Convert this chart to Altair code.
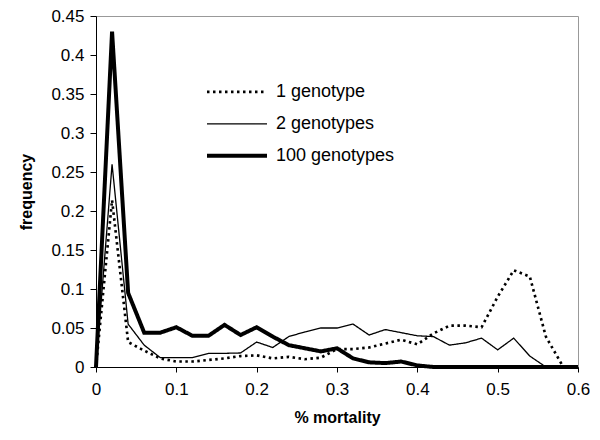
import altair as alt
import pandas as pd

mortality = [0.00, 0.02, 0.04, 0.06, 0.08, 0.10, 0.12, 0.14, 0.16, 0.18,
             0.20, 0.22, 0.24, 0.26, 0.28, 0.30, 0.32, 0.34, 0.36, 0.38,
             0.40, 0.42, 0.44, 0.46, 0.48, 0.50, 0.52, 0.54, 0.56, 0.58, 0.60]

one_genotype = [0, 0.214, 0.032, 0.021, 0.011, 0.007, 0.007, 0.009, 0.011, 0.014,
                0.015, 0.011, 0.013, 0.010, 0.012, 0.023, 0.023, 0.025, 0.030, 0.035,
                0.029, 0.043, 0.053, 0.053, 0.051, 0.090, 0.124, 0.116, 0.039, 0.003]

two_genotypes = [0, 0.260, 0.055, 0.028, 0.012, 0.012, 0.012, 0.0175, 0.0175, 0.018,
                 0.032, 0.025, 0.039, 0.045, 0.050, 0.050, 0.055, 0.041, 0.048, 0.044,
                 0.040, 0.039, 0.028, 0.031, 0.037, 0.022, 0.037, 0.014, 0, 0, 0]

hundred_genotypes = [0, 0.430, 0.095, 0.044, 0.044, 0.051, 0.040, 0.040, 0.054, 0.041,
                     0.051, 0.039, 0.028, 0.024, 0.020, 0.024, 0.011, 0.006, 0.005, 0.007,
                     0.002, 0, 0, 0, 0, 0, 0, 0, 0, 0, 0]

series_names = ["1 genotype", "2 genotypes", "100 genotypes"]
series_values = [one_genotype, two_genotypes, hundred_genotypes]

rows = []
for name, vals in zip(series_names, series_values):
    for x, y in zip(mortality, vals):
        rows.append({"mortality": x, "frequency": y, "series": name})
df = pd.DataFrame(rows)

x_ticks = [0, 0.1, 0.2, 0.3, 0.4, 0.5, 0.6]
y_ticks = [0, 0.05, 0.1, 0.15, 0.2, 0.25, 0.3, 0.35, 0.4, 0.45]

font = "Liberation Sans"

# scale order from thinnest to thickest line (legend shows series_names order)
width_order = ["2 genotypes", "1 genotype", "100 genotypes"]

chart = alt.Chart(df).mark_line(color="black", strokeCap="butt", strokeJoin="miter").encode(
    x=alt.X("mortality:Q", title="% mortality",
            scale=alt.Scale(domain=[0, 0.6], nice=False),
            axis=alt.Axis(values=x_ticks, format="~f", grid=False, tickSize=5,
                          labelPadding=9, titlePadding=12, labelFlush=False)),
    y=alt.Y("frequency:Q", title="frequency",
            scale=alt.Scale(domain=[0, 0.45], nice=False),
            axis=alt.Axis(values=y_ticks, format="~f", grid=False, tickSize=6,
                          labelPadding=6, titlePadding=16)),
    strokeDash=alt.StrokeDash(
        "series:N", title=None,
        scale=alt.Scale(domain=width_order, range=[[1, 0], [2.5, 3.5], [1, 0]]),
        legend=alt.Legend(values=series_names),
    ),
    strokeWidth=alt.StrokeWidth(
        "series:N", title=None,
        scale=alt.Scale(domain=width_order, range=[1.3, 4]),
        legend=alt.Legend(values=series_names),
    ),
    detail="series:N",
).properties(
    width=482,
    height=351,
    autosize=alt.AutoSizeParams(type="none"),
    padding={"left": 88, "top": 8, "right": 12, "bottom": 65},
).configure_view(
    stroke="#999999", strokeWidth=1
).configure_axis(
    domainColor="black", tickColor="black", labelColor="black", titleColor="black",
    labelFont=font, titleFont=font, labelFontSize=17, titleFontSize=16,
    titleFontWeight="bold", domainWidth=1
).configure_legend(
    orient="none", legendX=109, legendY=60,
    symbolType="stroke", symbolSize=3600, symbolStrokeColor="black",
    labelFont=font, labelFontSize=18, labelColor="black", labelOffset=7,
    clipHeight=31.7, rowPadding=0
)

chart.save("out.html", embed_options={"renderer": "svg", "actions": False})
